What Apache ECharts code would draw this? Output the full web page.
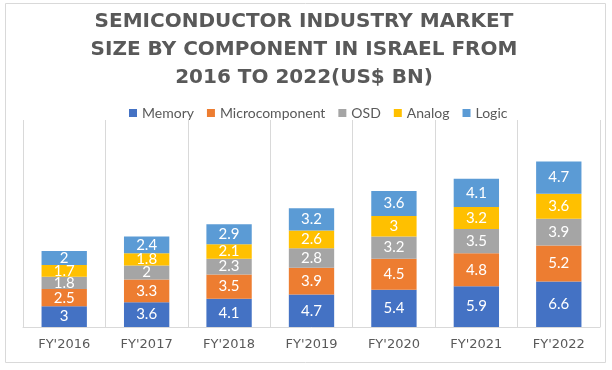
<!DOCTYPE html>
<html>
<head>
<meta charset="utf-8">
<script src="https://cdn.jsdelivr.net/npm/echarts@6/dist/echarts.min.js"></script>
<style>html,body{margin:0;padding:0;background:#fff}#c{width:612px;height:370px}</style>
</head>
<body>
<div id="c"></div>
<script>
const categories = ["FY'2016","FY'2017","FY'2018","FY'2019","FY'2020","FY'2021","FY'2022"];
const memory = [3, 3.6, 4.1, 4.7, 5.4, 5.9, 6.6];
const microcomponent = [2.5, 3.3, 3.5, 3.9, 4.5, 4.8, 5.2];
const osd = [1.8, 2, 2.3, 2.8, 3.2, 3.5, 3.9];
const analog = [1.7, 1.8, 2.1, 2.6, 3, 3.2, 3.6];
const logic = [2, 2.4, 2.9, 3.2, 3.6, 4.1, 4.7];
const seriesNames = ['Memory','Microcomponent','OSD','Analog','Logic'];
const seriesData = [memory, microcomponent, osd, analog, logic];
const colors = ['#4472C4','#ED7D31','#A5A5A5','#FFC000','#5B9BD5'];

const chart = echarts.init(document.getElementById('c'), null, {renderer:'canvas'});
chart.setOption({
  animation: false,
  color: colors,
  title: {
    text: 'SEMICONDUCTOR INDUSTRY MARKET\nSIZE BY COMPONENT IN ISRAEL FROM\n2016 TO 2022(US$ BN)',
    left: 304,
    top: 8,
    padding: 0,
    textAlign: 'center',
    textStyle: {
      fontFamily: 'DejaVu Sans',
      fontWeight: 'bold',
      fontSize: 20,
      lineHeight: 28,
      color: '#595959'
    }
  },
  legend: {
    data: seriesNames,
    left: 124,
    top: 101,
    itemWidth: 8,
    itemHeight: 8,
    itemGap: 13,
    icon: 'rect',
    textStyle: {fontFamily: 'Lato', fontSize: 14, color: '#595959'}
  },
  graphic: [{
    type: 'rect',
    shape: {x: 5.5, y: 3.5, width: 600, height: 359},
    style: {fill: 'none', stroke: '#d9d9d9', lineWidth: 1},
    silent: true
  }],
  grid: {left: 23, right: 12, top: 120, bottom: 43},
  xAxis: {
    type: 'category',
    data: categories,
    axisLine: {lineStyle: {color: '#d9d9d9'}},
    axisTick: {show: false},
    splitLine: {show: true, lineStyle: {color: '#d9d9d9'}},
    axisLabel: {fontFamily: 'DejaVu Sans', fontSize: 13, color: '#595959', margin: 11}
  },
  yAxis: {
    type: 'value', min: 0, max: 30, show: false,
    splitLine: {show: false}
  },
  series: seriesNames.map((n, i) => ({
    name: n,
    type: 'bar',
    stack: 'total',
    barWidth: '55%',
    data: seriesData[i],
    label: {show: true, position: 'inside', color: '#fff', fontFamily: 'Lato', fontSize: 15}
  }))
});
</script>
</body>
</html>
